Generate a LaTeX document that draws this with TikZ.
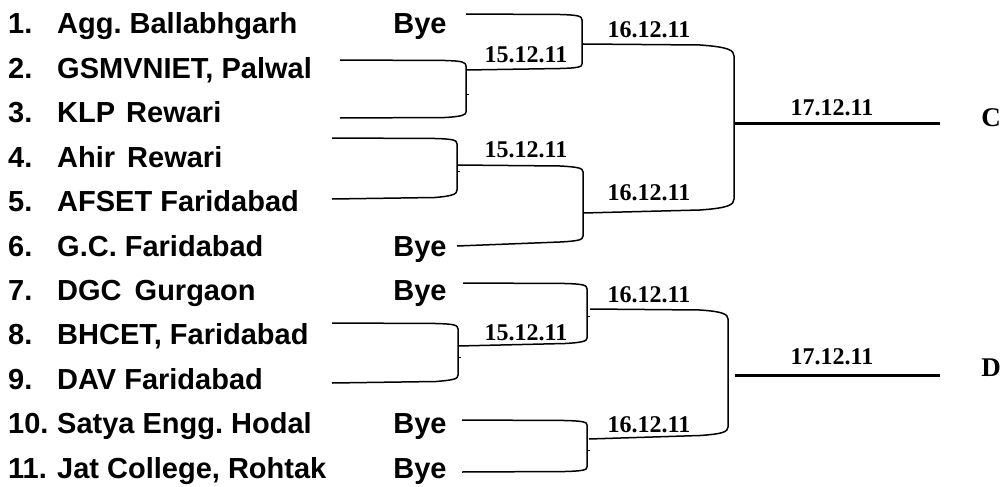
\documentclass[tikz,border=0pt]{standalone}
\usepackage{fontspec}
\setmainfont{Liberation Serif}
\newfontfamily\teamfont{Liberation Sans}
\frenchspacing
\tikzset{
  team/.style={anchor=base west,inner sep=0pt,font=\teamfont\bfseries\fontsize{29}{31}\selectfont},
  byelbl/.style={anchor=base,inner sep=0pt,font=\teamfont\bfseries\fontsize{29}{31}\selectfont},
  datelbl/.style={anchor=center,inner sep=0pt,font=\bfseries\fontsize{24}{26}\selectfont},
  poollbl/.style={anchor=center,inner sep=0pt,font=\bfseries\fontsize{27}{30}\selectfont},
  arm/.style={line width=1.5pt},
  final/.style={line width=3pt},
  tick/.style={line width=1pt}
}
\begin{document}
\begin{tikzpicture}[x=1pt,y=-1pt]
\useasboundingbox (0,0) rectangle (1004,487);
% team names
\foreach \n/\t [count=\i from 0] in {1./Agg. Ballabhgarh,2./{GSMVNIET, Palwal},3./KLP\hspace{3pt} Rewari,4./Ahir\hspace{4pt} Rewari,5./AFSET Faridabad,6./G.C. Faridabad,7./DGC\hspace{5pt} Gurgaon,8./{BHCET, Faridabad},9./DAV Faridabad,10./Satya Engg. Hodal,11./{Jat College, Rohtak}}{
  \node[team] (num\i) at (8,{34+44.4*\i}) {\n};
  \node[team] (name\i) at (57,{34+44.4*\i}) {\t};
}
\node[byelbl] (bye1) at (420,34) {Bye};
\node[byelbl] (bye6) at (420,256) {Bye};
\node[byelbl] (bye7) at (420,300.4) {Bye};
\node[byelbl] (bye10) at (420,433.6) {Bye};
\node[byelbl] (bye11) at (420,478) {Bye};

% match 1 (2 vs 3)
\coordinate (m1a) at (340,60);
\coordinate (m1b) at (340,118);
\coordinate (m1o) at (466,70);
\draw[arm] (m1a) -- (445,60.5) .. controls (462,61) and (466,62) .. (466,66) -- (466,112) .. controls (466,115) and (462,116.5) .. (445,117.5) -- (m1b);
\draw[tick] (466,94) -- (469,94);
% round 2 top (1 vs W1)
\coordinate (r2a) at (466,14);
\coordinate (r2o) at (583,44);
\draw[arm] (r2a) -- (560,14.5) .. controls (578,15) and (582,16) .. (582,20) -- (582,64) .. controls (582,67) and (578,68) .. (560,68.5) -- (m1o);
% match 2 (4 vs 5)
\coordinate (m2a) at (332,138);
\coordinate (m2b) at (332,199);
\coordinate (m2o) at (457,165);
\draw[arm] (m2a) -- (435,138.5) .. controls (453,139) and (457,140) .. (457,144) -- (457,190) .. controls (457,194) and (453,196) .. (435,197.5) -- (m2b);
\draw[tick] (457,171) -- (460,171);
% round 2 (W2 vs 6)
\coordinate (r3b) at (457,246);
\coordinate (r3o) at (583,213);
\draw[arm] (m2o) -- (560,166) .. controls (578,167) and (583,168) .. (583,172) -- (583,236) .. controls (583,240) and (578,241) .. (560,242) -- (r3b);
% final C
\coordinate (fc) at (734,123);
\coordinate (fce) at (940,123);
\draw[arm] (r2o) -- (700,45) .. controls (728,47) and (734,50) .. (734,56) -- (734,199) .. controls (734,205) and (728,208) .. (700,210) -- (r3o);
\draw[final] (fc) -- (fce);

% bottom half
% match 3 (8 vs 9)
\coordinate (m3a) at (332,323);
\coordinate (m3b) at (332,383);
\coordinate (m3o) at (458,346);
\draw[arm] (m3a) -- (436,323.5) .. controls (454,324) and (458,325) .. (458,329) -- (458,375) .. controls (458,379) and (454,380) .. (436,381.5) -- (m3b);
\draw[tick] (458,357) -- (461,357);
% round 2 (7 vs W3)
\coordinate (r4a) at (463,283);
\coordinate (r4o) at (590,309);
\draw[arm] (r4a) -- (565,283.5) .. controls (583,284) and (587,285) .. (587,289) -- (587,338) .. controls (587,341) and (583,342.5) .. (565,343.5) -- (m3o);
\draw[tick] (587,316) -- (590,316);
% round 2 (10 vs 11)
\coordinate (r5a) at (462,420);
\coordinate (r5b) at (462,472);
\coordinate (r5o) at (589,439);
\draw[arm] (r5a) -- (565,420.5) .. controls (583,421) and (587,422) .. (587,425) -- (587,467) .. controls (587,470) and (583,471) .. (565,471.5) -- (r5b);
\draw[tick] (587,450) -- (590,450);
% final D
\coordinate (fd) at (735,375);
\coordinate (fde) at (940,375);
\draw[arm] (r4o) -- (700,310) .. controls (722,311.5) and (728,314) .. (728,319) -- (728,427) .. controls (728,432) and (722,434) .. (700,435.5) -- (r5o);
\draw[final] (fd) -- (fde);

% date labels
\node[datelbl] (d1) at (526,55) {15.12.11};
\node[datelbl] (d2) at (649,30) {16.12.11};
\node[datelbl] (d3) at (526,150) {15.12.11};
\node[datelbl] (d4) at (649,193) {16.12.11};
\node[datelbl] (d5) at (832,108) {17.12.11};
\node[datelbl] (d6) at (649,295) {16.12.11};
\node[datelbl] (d7) at (526,333) {15.12.11};
\node[datelbl] (d8) at (832,357) {17.12.11};
\node[datelbl] (d9) at (649,425) {16.12.11};
\node[poollbl] (pc) at (991,118) {C};
\node[poollbl] (pd) at (991,368) {D};
\end{tikzpicture}
\end{document}
